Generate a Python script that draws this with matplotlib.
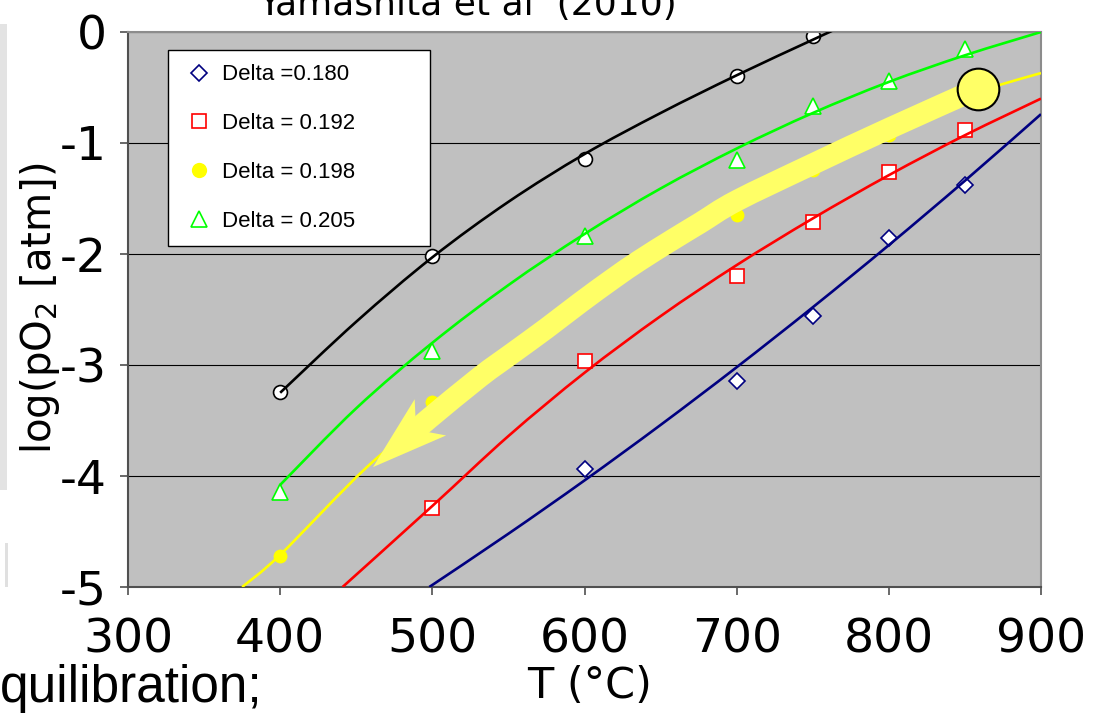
import numpy as np
import matplotlib
matplotlib.use('Agg')
import matplotlib.pyplot as plt
from matplotlib.patches import Polygon, Rectangle, PathPatch
from matplotlib.path import Path
from matplotlib.lines import Line2D

plt.rcParams['axes.unicode_minus'] = False
plt.rcParams['font.family'] = 'DejaVu Sans'

# measured points (T in degC, log pO2)
T_180 = [600, 700, 750, 800, 850]
y_180 = [-3.94, -3.14, -2.56, -1.86, -1.38]
T_192 = [500, 600, 700, 750, 800, 850]
y_192 = [-4.29, -2.96, -2.20, -1.71, -1.26, -0.88]
T_198 = [400, 500, 600, 700, 750, 800, 850]
y_198 = [-4.72, -3.33, -2.38, -1.65, -1.24, -0.93, -0.55]
T_205 = [400, 500, 600, 700, 750, 800, 850]
y_205 = [-4.14, -2.87, -1.84, -1.15, -0.67, -0.44, -0.15]
T_ref = [400, 500, 600, 700, 750]
y_ref = [-3.24, -2.02, -1.14, -0.40, -0.04]

# fitted curves
fitT_180 = [498, 550, 600, 650, 700, 750, 800, 850, 900]
fit_180 = [-5.0, -4.52, -4.04, -3.54, -3.02, -2.48, -1.92, -1.34, -0.74]
fitT_192 = [441, 500, 550, 600, 650, 700, 750, 800, 850, 900]
fit_192 = [-5.0, -4.27, -3.64, -3.07, -2.56, -2.10, -1.68, -1.29, -0.93, -0.60]
fitT_198 = [375, 400, 457, 500, 550, 600, 650, 700, 750, 800, 850, 872, 900]
fit_198 = [-5.0, -4.71, -3.92, -3.44, -2.90, -2.40, -1.96, -1.55, -1.20, -0.89, -0.58, -0.48, -0.37]
fitT_205 = [400, 450, 500, 550, 600, 650, 700, 750, 800, 850, 900]
fit_205 = [-4.08, -3.39, -2.80, -2.28, -1.82, -1.41, -1.05, -0.73, -0.45, -0.21, 0.0]
fitT_ref = [400, 450, 500, 550, 600, 650, 700, 750, 780]
fit_ref = [-3.25, -2.61, -2.03, -1.53, -1.10, -0.73, -0.39, -0.07, 0.12]

# highlighted path (thick yellow arrow)
arrow_T = [858.5, 800, 750, 700, 676, 658, 636, 619, 597, 575, 553, 531, 498]
arrow_y = [-0.51, -0.87, -1.19, -1.52, -1.72, -1.87, -2.06, -2.22, -2.44, -2.67, -2.89, -3.11, -3.48]
arrow_tip = (461, -3.92)
start_pt = (858.5, -0.51)

labels = ['Delta =0.180', 'Delta = 0.192', 'Delta = 0.198', 'Delta = 0.205']
xticks = [300, 400, 500, 600, 700, 800, 900]
yticks = [0, -1, -2, -3, -4, -5]


def smooth_path(xs, ys, trans):
    # Catmull-Rom through the points, done in pixel space and turned into cubic Bezier segments
    p = trans.transform(np.column_stack([xs, ys]))
    p = np.vstack([p[0], p, p[-1]])
    verts = [p[1]]
    codes = [Path.MOVETO]
    for i in range(1, len(p) - 2):
        c1 = p[i] + (p[i + 1] - p[i - 1]) / 6
        c2 = p[i + 1] - (p[i + 2] - p[i]) / 6
        verts += [c1, c2, p[i + 1]]
        codes += [Path.CURVE4] * 3
    return Path(trans.inverted().transform(np.array(verts)), codes)


def draw_curve(ax, xs, ys, **kw):
    patch = PathPatch(smooth_path(xs, ys, ax.transData), fill=False, **kw)
    ax.add_patch(patch)
    return patch


fig = plt.figure(figsize=(11.01, 7.13), dpi=100)
fig.patch.set_facecolor('white')

# bits of slide background on the left edge
fig.patches.append(Rectangle((0, 1 - 490/713), 7/1101, (490-24)/713, transform=fig.transFigure,
                             facecolor='#e3e3e3', edgecolor='none'))
fig.patches.append(Rectangle((5/1101, 1 - 587/713), 3/1101, 44/713, transform=fig.transFigure,
                             facecolor='#e0e0e0', edgecolor='none'))

ax = fig.add_axes([128/1101, 126/713, 913/1101, 555/713])
ax.set_facecolor('#c0c0c0')
ax.set_xlim(300, 900)
ax.set_ylim(-5, 0)

ax.yaxis.grid(True, color='black', lw=0.8)
ax.set_axisbelow(True)

# fitted lines
lw = 1.9
draw_curve(ax, fitT_180, fit_180, edgecolor='#000080', lw=lw, zorder=3)
draw_curve(ax, fitT_192, fit_192, edgecolor='#ff0000', lw=lw, zorder=3)
draw_curve(ax, fitT_198, fit_198, edgecolor='#ffff00', lw=lw, zorder=3)
draw_curve(ax, fitT_205, fit_205, edgecolor='#00ff00', lw=lw, zorder=3)
draw_curve(ax, fitT_ref, fit_ref, edgecolor='black', lw=lw, zorder=3)

# markers
ax.plot(T_180, y_180, ls='none', marker='D', ms=8, mfc='white', mec='#000080', mew=1.2, zorder=2.5)
ax.plot(T_192, y_192, ls='none', marker='s', ms=10.5, mfc='white', mec='#ff0000', mew=1.2, zorder=2.5)
ax.plot(T_198, y_198, ls='none', marker='o', ms=10, mfc='#ffff00', mec='#ffff00', mew=0, zorder=2.5)
ax.plot(T_205, y_205, ls='none', marker='^', ms=11, mfc='white', mec='#00ff00', mew=1.2, zorder=2.5)
ax.plot(T_ref, y_ref, ls='none', marker='o', ms=10, mfc='white', mec='black', mew=1.2, zorder=2.5)

# arrow head built in pixel space
tip = ax.transData.transform(arrow_tip)
base = ax.transData.transform((arrow_T[-1], arrow_y[-1]))
d = (tip - base) / np.hypot(*(tip - base))
n = np.array([-d[1], d[0]])
head_len, half_w, notch = 76, 24, 57
head_px = [tip, tip - d * head_len + n * half_w, tip - d * notch, tip - d * head_len - n * half_w]
head = ax.transData.inverted().transform(head_px)
notch_pt = ax.transData.inverted().transform(tip - d * (notch - 3))

band_T = list(arrow_T) + [notch_pt[0]]
band_y = list(arrow_y) + [notch_pt[1]]
band = draw_curve(ax, band_T, band_y, edgecolor='#ffff66', lw=15.5, zorder=5)
band.set_capstyle('butt')
band.set_joinstyle('round')
ax.add_patch(Polygon(head, closed=True, facecolor='#ffff66', edgecolor='none', zorder=5))
ax.plot([start_pt[0]], [start_pt[1]], marker='o', ms=30, mfc='#ffff66', mec='black', mew=1.5, zorder=6)

# axes styling
ax.set_xticks(xticks)
ax.set_yticks(yticks)
ax.set_xticklabels([str(v) for v in xticks])
ax.set_yticklabels([str(v) for v in yticks])
ax.tick_params(axis='both', direction='out', length=6, width=1.2, color='#505050', labelsize=34)
ax.tick_params(axis='x', pad=16)
ax.tick_params(axis='y', pad=9)
for s in ['left', 'bottom']:
    ax.spines[s].set_color('#505050')
    ax.spines[s].set_linewidth(1.5)
for s in ['top', 'right']:
    ax.spines[s].set_color('#8c8c8c')
    ax.spines[s].set_linewidth(1.5)

handles = [
    Line2D([], [], ls='none', marker='D', ms=8, mfc='white', mec='#000080', mew=1.2),
    Line2D([], [], ls='none', marker='s', ms=10.5, mfc='white', mec='#ff0000', mew=1.2),
    Line2D([], [], ls='none', marker='o', ms=11, mfc='#ffff00', mec='#ffff00', mew=0),
    Line2D([], [], ls='none', marker='^', ms=11, mfc='white', mec='#00ff00', mew=1.2),
]
leg = ax.legend(handles, labels, loc='upper left', bbox_to_anchor=(0.0438, 0.5, 0.287, 0.4676),
                mode='expand', borderaxespad=0, prop={'family': 'Liberation Sans', 'size': 16},
                labelspacing=1.25, borderpad=0.65, handlelength=1.5, handletextpad=0.3,
                fancybox=False, framealpha=1, edgecolor='black')
leg.get_frame().set_linewidth(1.0)
leg.set_zorder(10)

# texts
fig.text(467/1101, 1 - 15/713, 'Yamashita et al  (2010)', ha='center', va='baseline', fontsize=26)
fig.text(40/1101, 1 - 308/713, 'log(pO$_2$ [atm])', rotation=90, ha='center', va='center', fontsize=29)
fig.text(590/1101, 1 - 698/713, 'T (°C)', ha='center', va='baseline', fontsize=31)
fig.text(0, 11/713, 'quilibration;', ha='left', va='baseline', fontsize=37, family='Liberation Sans')

fig.savefig('out.png', dpi=100)
